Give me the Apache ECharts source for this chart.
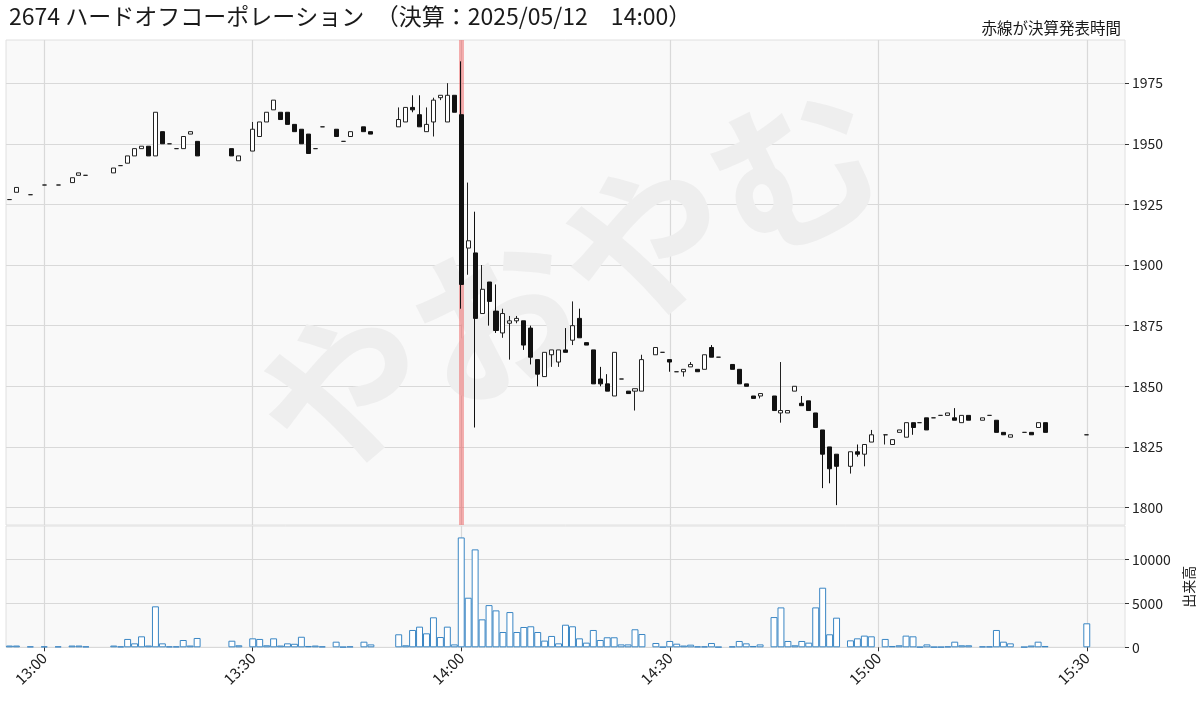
<!DOCTYPE html>
<html>
<head>
<meta charset="utf-8">
<script src="https://cdn.jsdelivr.net/npm/echarts@6.0.0/dist/echarts.min.js"></script>
<style>
html,body{margin:0;padding:0;background:#ffffff;}
#chart{width:1200px;height:704px;}
</style>
</head>
<body>
<div id="chart"></div>
<script>
// ---- text ----
const titleText = '2674 ハードオフコーポレーション　（決算：2025/05/12　14:00）';
const noteText = '赤線が決算発表時間';
const watermarkText = 'やおやむ';
const volumeName = '出来高';

// ---- axes ----
const startTime = '12:55';
const endTime = '15:35';
const announceTime = '14:00';
const priceTicks = [1800, 1825, 1850, 1875, 1900, 1925, 1950, 1975];
const priceMin = 1792.8;
const priceMax = 1992.8;
const volumeTicks = [0, 5000, 10000];
const volumeMax = 13800;

// ---- 1-minute bars (only minutes with trades) ----
const tradeTimes = ['12:55','12:56','12:58','13:00','13:02','13:04','13:05','13:06','13:10','13:11',
  '13:12','13:13','13:14','13:15','13:16','13:17','13:18','13:19','13:20','13:21',
  '13:22','13:27','13:28','13:30','13:31','13:32','13:33','13:34','13:35','13:36',
  '13:37','13:38','13:39','13:40','13:42','13:43','13:44','13:46','13:47','13:51',
  '13:52','13:53','13:54','13:55','13:56','13:57','13:58','13:59','14:00','14:01',
  '14:02','14:03','14:04','14:05','14:06','14:07','14:08','14:09','14:10','14:11',
  '14:12','14:13','14:14','14:15','14:16','14:17','14:18','14:19','14:20','14:21',
  '14:22','14:23','14:24','14:25','14:26','14:28','14:29','14:30','14:31','14:32',
  '14:33','14:34','14:35','14:36','14:37','14:39','14:40','14:41','14:42','14:43',
  '14:45','14:46','14:47','14:48','14:49','14:50','14:51','14:52','14:53','14:54',
  '14:56','14:57','14:58','14:59','15:01','15:02','15:03','15:04','15:05','15:06',
  '15:07','15:08','15:09','15:10','15:11','15:12','15:13','15:15','15:16','15:17',
  '15:18','15:19','15:21','15:22','15:23','15:24','15:30'];
const opens = [1927,1930,1929,1933,1933,1934,1937,1937,1938,1941,
  1942,1945,1948,1949,1945,1955,1950,1948,1948,1954,
  1951,1948,1943,1947,1953,1959,1964,1963,1963,1958,
  1956,1954,1948,1957,1956,1951,1953,1957,1955,1957,
  1959,1965,1962,1955,1959,1969,1959,1970,1962,1907,
  1905,1880,1893,1881,1872,1876,1877,1877,1874,1861,
  1854,1863,1860,1865,1869,1878,1868,1865,1853,1851,
  1846,1853,1848,1848,1848,1863,1864,1861,1856,1856,
  1858,1857,1857,1866,1862,1859,1857,1851,1846,1846,
  1846,1839,1839,1848,1843,1844,1839,1832,1825,1822,
  1817,1823,1822,1827,1830,1826,1831,1829,1835,1835,
  1837,1837,1838,1838,1837,1835,1838,1836,1838,1836,
  1831,1829,1831,1831,1833,1835,1830];
const closes = [1927,1932,1929,1933,1933,1936,1938,1937,1940,1941,
  1945,1948,1949,1945,1963,1950,1950,1948,1953,1955,
  1945,1945,1945,1956,1959,1963,1968,1960,1958,1955,
  1950,1946,1948,1957,1953,1951,1955,1955,1954,1960,
  1965,1964,1957,1958,1968,1970,1970,1963,1892,1910,
  1878,1890,1885,1873,1880,1877,1878,1867,1862,1855,
  1864,1865,1865,1864,1875,1870,1867,1851,1851,1848,
  1864,1853,1847,1849,1861,1866,1864,1860,1856,1857,
  1859,1856,1863,1862,1862,1857,1851,1850,1845,1847,
  1840,1840,1840,1850,1842,1840,1833,1822,1816,1817,
  1823,1822,1826,1830,1830,1828,1832,1835,1833,1835,
  1832,1837,1838,1839,1836,1838,1836,1837,1838,1831,
  1830,1830,1831,1830,1835,1831,1830];
const lows = [1927,1930,1929,1933,1933,1934,1937,1937,1938,1941,
  1942,1945,1948,1945,1945,1950,1950,1948,1948,1954,
  1945,1945,1943,1947,1953,1959,1964,1960,1958,1955,
  1950,1946,1948,1957,1953,1951,1953,1955,1954,1957,
  1959,1963,1957,1955,1953,1968,1959,1963,1882,1896,
  1833,1880,1875,1872,1870,1861,1876,1865,1859,1850,
  1854,1858,1858,1864,1867,1870,1867,1851,1850,1848,
  1846,1853,1847,1840,1848,1863,1864,1856,1856,1854,
  1858,1856,1857,1862,1862,1857,1851,1850,1845,1845,
  1840,1835,1839,1848,1842,1840,1833,1808,1810,1801,
  1814,1821,1817,1827,1826,1826,1831,1829,1830,1835,
  1832,1837,1838,1838,1836,1835,1836,1836,1838,1831,
  1830,1829,1831,1830,1833,1831,1830];
const highs = [1927,1932,1929,1933,1933,1936,1938,1937,1940,1941,
  1945,1948,1949,1949,1963,1955,1950,1948,1953,1955,
  1951,1948,1945,1959,1959,1963,1968,1963,1963,1958,
  1956,1954,1948,1957,1956,1951,1955,1957,1955,1965,
  1965,1970,1970,1965,1969,1970,1975,1970,1984,1934,
  1922,1900,1893,1892,1882,1879,1879,1877,1875,1861,
  1864,1865,1865,1874,1885,1882,1868,1865,1858,1855,
  1864,1853,1848,1849,1863,1866,1864,1861,1856,1857,
  1860,1857,1863,1867,1862,1859,1857,1851,1846,1847,
  1846,1860,1840,1850,1846,1844,1839,1832,1825,1822,
  1823,1826,1826,1832,1830,1828,1832,1835,1835,1835,
  1837,1837,1838,1839,1841,1838,1838,1837,1838,1836,
  1831,1830,1831,1831,1835,1835,1830];
const volumes = [200,200,100,100,100,200,200,100,200,100,
  950,450,1250,200,4660,450,100,100,830,200,
  1060,750,230,1020,950,230,1020,200,450,400,
  1200,150,200,100,640,50,100,640,330,1480,
  230,1970,2350,1590,3410,1170,2350,330,12500,5640,
  11140,3180,4800,4200,1740,4010,1740,2310,2390,1740,
  760,1290,450,2570,2390,1020,530,1970,830,1140,
  1140,330,330,2050,1510,490,50,720,410,200,
  300,100,100,490,50,100,720,450,150,330,
  3440,4540,720,230,720,530,4540,6780,1480,3370,
  790,1020,1330,1250,950,150,230,1330,1250,50,
  330,50,50,100,640,230,230,100,100,1970,
  640,450,50,200,640,150,2730];

// ---- build the minute categories ----
function toMin(t){ const p = t.split(':'); return (+p[0]) * 60 + (+p[1]); }
function toStr(m){ const h = Math.floor(m / 60), mm = m % 60; return h + ':' + (mm < 10 ? '0' : '') + mm; }
const categories = [];
for (let m = toMin(startTime); m <= toMin(endTime); m++) categories.push(toStr(m));

const candleData = tradeTimes.map((t, i) => [t, opens[i], closes[i], lows[i], highs[i]]);
const volumeData = tradeTimes.map((t, i) => [t, volumes[i]]);

const halfHour = (idx, val) => /:(00|30)$/.test(val);
const plain = v => String(Math.round(v));
const FONT = '"Noto Sans CJK JP", "Noto Sans", sans-serif';
const gridLine = { color: '#d9d9d9', width: 1.2 };

const chart = echarts.init(document.getElementById('chart'), null, { renderer: 'canvas' });
chart.setOption({
  animation: false,
  textStyle: { fontFamily: FONT },
  title: [
    { text: titleText, left: 9, top: 5, padding: 0,
      textStyle: { fontSize: 23, fontWeight: 'normal', color: '#1a1a1a', fontFamily: FONT } },
    { text: noteText, right: 79, top: 20, padding: 0,
      textStyle: { fontSize: 15.5, fontWeight: 'normal', color: '#1a1a1a', fontFamily: FONT } }
  ],
  graphic: [{
    type: 'text', x: 570, y: 280, rotation: 0.455, z: 1, silent: true,
    style: { text: watermarkText, fontSize: 168, fontWeight: 'bold', fontFamily: FONT,
      fill: '#eeeeee', textAlign: 'center', textVerticalAlign: 'middle' }
  }],
  grid: [
    { left: 6, right: 75, top: 40, height: 485, show: true, outerBoundsMode: 'none',
      backgroundColor: '#f9f9f9', borderColor: '#e0e0e0', borderWidth: 1 },
    { left: 6, right: 75, top: 526, height: 121.3, show: true, outerBoundsMode: 'none',
      backgroundColor: '#f9f9f9', borderColor: '#e0e0e0', borderWidth: 1 }
  ],
  xAxis: [
    { type: 'category', gridIndex: 0, data: categories, boundaryGap: true,
      axisLine: { show: false }, axisTick: { show: false }, axisLabel: { show: false },
      splitLine: { show: true, interval: halfHour, alignWithLabel: true, lineStyle: gridLine } },
    { type: 'category', gridIndex: 1, data: categories, boundaryGap: true,
      axisLine: { show: false },
      axisTick: { show: true, interval: halfHour, alignWithLabel: true, length: 4,
        lineStyle: { color: '#333', width: 1 } },
      axisLabel: { show: true, interval: halfHour, rotate: 45, fontSize: 15, color: '#222',
        margin: 8, fontFamily: FONT },
      splitLine: { show: true, interval: halfHour, alignWithLabel: true, lineStyle: gridLine } }
  ],
  yAxis: [
    { type: 'value', gridIndex: 0, position: 'right', min: priceMin, max: priceMax,
      axisLine: { show: false },
      axisTick: { show: true, customValues: priceTicks, length: 4, lineStyle: { color: '#333' } },
      axisLabel: { customValues: priceTicks, formatter: plain, fontSize: 14, color: '#222',
        margin: 7, fontFamily: FONT },
      splitLine: { show: true, lineStyle: gridLine } },
    { type: 'value', gridIndex: 1, position: 'right', min: 0, max: volumeMax,
      name: volumeName, nameLocation: 'middle', nameRotate: 90, nameGap: 52,
      nameTextStyle: { fontSize: 14, color: '#222', fontFamily: FONT },
      axisLine: { show: false },
      axisTick: { show: true, customValues: volumeTicks, length: 4, lineStyle: { color: '#333' } },
      axisLabel: { customValues: volumeTicks, formatter: plain, fontSize: 14, color: '#222',
        margin: 7, fontFamily: FONT },
      splitLine: { show: true, lineStyle: gridLine } }
  ],
  series: [
    { type: 'candlestick', xAxisIndex: 0, yAxisIndex: 0, z: 3,
      dimensions: ['time', 'open', 'close', 'low', 'high'],
      encode: { x: 0, y: [1, 2, 3, 4] },
      data: candleData, barWidth: '65%',
      itemStyle: { color: '#ffffff', color0: '#111111', borderColor: '#222222',
        borderColor0: '#111111', borderColorDoji: '#222222', borderWidth: 1 },
      markLine: { silent: true, z: 1, symbol: ['none', 'none'], label: { show: false },
        lineStyle: { color: 'rgba(238,70,70,0.42)', width: 5, type: 'solid' },
        data: [{ xAxis: announceTime }] } },
    { type: 'bar', xAxisIndex: 1, yAxisIndex: 1, z: 3,
      encode: { x: 0, y: 1 }, data: volumeData, barCategoryGap: '0%',
      itemStyle: { color: '#ffffff', borderColor: '#3a86c4', borderWidth: 1 } }
  ]
});
</script>
</body>
</html>
